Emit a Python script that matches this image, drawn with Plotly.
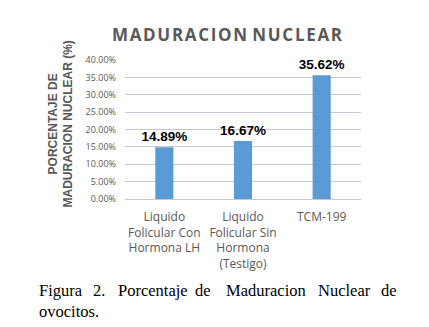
import plotly.graph_objects as go

categories = ["Liquido<br>Folicular Con<br>Hormona LH",
              "Liquido<br>Folicular Sin<br>Hormona<br>(Testigo)",
              "TCM-199"]
values = [0.1489, 0.1667, 0.3562]
labels = ["<b>14.89%</b>", "<b>16.67%</b>", "<b>35.62%</b>"]
tick_vals = [0, 0.05, 0.10, 0.15, 0.20, 0.25, 0.30, 0.35, 0.40]
tick_text = ["0.00%", "5.00%", "10.00%", "15.00%", "20.00%", "25.00%", "30.00%", "35.00%", "40.00%"]

W, H = 429, 327
ML, MR, MT, MB = 125, 68, 60, 128
PW = W - ML - MR
PH = H - MT - MB


def px(x):
    return (x - ML) / PW


def py(y):
    return (H - MB - y) / PH


fig = go.Figure(go.Bar(
    x=categories, y=values, text=labels, textposition="outside",
    constraintext="none",
    textfont=dict(family="Liberation Sans", size=13.5, color="#000000"),
    outsidetextfont=dict(family="Liberation Sans", size=13.5, color="#000000"),
    marker=dict(color="#5b9bd5", line=dict(width=0)),
    cliponaxis=False,
))

fig.update_layout(
    width=W, height=H,
    margin=dict(l=ML, r=MR, t=MT, b=MB, pad=0),
    paper_bgcolor="white", plot_bgcolor="white",
    bargap=0.77,
    showlegend=False,
    title=dict(text="<b>M A D U R A C I O N   N U C L E A R</b>".replace(" ", "\u200a"), x=227 / W, xanchor="center",
               y=1 - 35 / H, yanchor="middle",
               font=dict(family="Open Sans", size=17, color="#595959")),
    xaxis=dict(showline=False, showgrid=False, ticks="", ticklabelstandoff=9,
               tickfont=dict(family="Open Sans", size=12, color="#595959")),
    yaxis=dict(range=[0, 0.40], tickvals=tick_vals, ticktext=tick_text,
               showgrid=True, gridcolor="#cdc6d2", gridwidth=1,
               zeroline=True, zerolinecolor="#c8c8c8", zerolinewidth=1,
               showline=False, ticks="", ticklabelstandoff=8,
               tickfont=dict(family="Open Sans", size=9, color="#595959")),
)

anns = [dict(text="<b>PORCENTAJE DE<br>MADURACION NUCLEAR (%)</b>", textangle=-90,
             x=px(60.5), y=py(124), xref="paper", yref="paper", showarrow=False,
             xanchor="center", yanchor="middle",
             font=dict(family="Liberation Sans", size=12, color="#595959"))]

cap_words = [("Figura", 37), ("2.", 91), ("Porcentaje", 116), ("de", 193),
             ("Maduracion", 224), ("Nuclear", 316), ("de", 379)]
for w, x in cap_words:
    anns.append(dict(text=w, x=px(x), y=py(290), xref="paper", yref="paper",
                     showarrow=False, xanchor="left", yanchor="middle",
                     font=dict(family="Liberation Serif", size=16.5, color="#000000")))
anns.append(dict(text="ovocitos.", x=px(37), y=py(311), xref="paper", yref="paper",
                 showarrow=False, xanchor="left", yanchor="middle",
                 font=dict(family="Liberation Serif", size=16.5, color="#000000")))
fig.update_layout(annotations=anns)

fig.write_html("out.html")
